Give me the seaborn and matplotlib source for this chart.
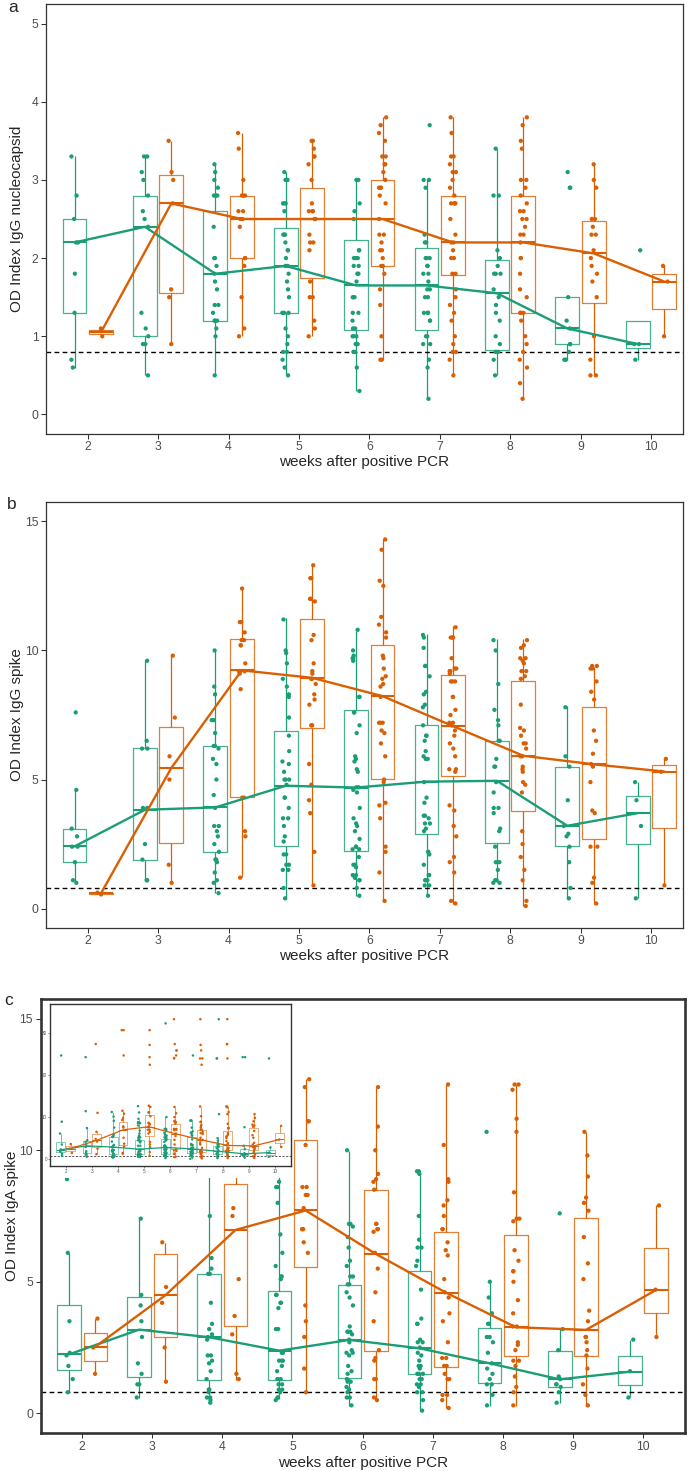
import numpy as np
import pandas as pd
import matplotlib
matplotlib.use("Agg")
import matplotlib.pyplot as plt
import seaborn as sns

np.random.seed(7)

WEEKS = [2, 3, 4, 5, 6, 7, 8, 9, 10]
GROUPS = ["green", "orange"]
COLORS = {"green": "#1B9E77", "orange": "#D95F02"}
CUTOFF = 0.8
XLABEL = "weeks after positive PCR"

# ---------- panel a : IgG nucleocapsid (lower whisker, Q1, median, Q3, upper whisker)
A_GREEN_BOX = [(0.6, 1.3, 2.2, 2.5, 3.3), (0.5, 1.0, 2.4, 2.8, 3.3), (0.5, 1.2, 1.8, 2.6, 3.2),
               (0.5, 1.3, 1.9, 2.38, 3.1), (0.3, 1.08, 1.65, 2.23, 3.0), (0.2, 1.08, 1.65, 2.13, 3.0),
               (0.5, 0.83, 1.55, 1.98, 3.4), (0.7, 0.9, 1.1, 1.5, 1.5), (0.7, 0.85, 0.9, 1.2, 1.2)]
A_ORANGE_BOX = [(1.0, 1.03, 1.05, 1.08, 1.1), (0.9, 1.55, 2.7, 3.06, 3.5), (1.0, 2.0, 2.5, 2.8, 3.6),
                (1.0, 1.75, 2.5, 2.9, 3.5), (0.7, 1.9, 2.5, 3.0, 3.8), (0.5, 1.78, 2.2, 2.8, 3.8),
                (0.2, 1.3, 2.2, 2.8, 3.8), (0.5, 1.43, 2.06, 2.48, 3.2), (1.0, 1.35, 1.7, 1.8, 1.9)]
A_GREEN_PTS = [
    [3.3, 2.8, 2.5, 2.2, 2.2, 1.8, 1.3, 0.7, 0.6],
    [3.3, 3.3, 3.1, 3.0, 2.8, 2.6, 2.5, 2.4, 1.3, 1.1, 1.0, 0.9, 0.9, 0.5],
    [3.2, 3.1, 3.0, 2.9, 2.8, 2.8, 2.8, 2.4, 2.0, 2.0, 1.9, 1.8, 1.7, 1.6, 1.4, 1.4, 1.3, 1.2, 1.2, 1.2, 1.1, 1.0, 0.5],
    [3.1, 3.0, 3.0, 2.7, 2.7, 2.7, 2.6, 2.3, 2.3, 2.3, 2.2, 2.1, 2.1, 2.0, 1.9, 1.9, 1.8, 1.7, 1.6, 1.5, 1.3, 1.3,
     1.3, 1.1, 1.0, 0.9, 0.8, 0.8, 0.7, 0.6, 0.5],
    [3.0, 3.0, 2.7, 2.6, 2.5, 2.1, 2.1, 2.0, 2.0, 2.0, 1.9, 1.9, 1.8, 1.8, 1.7, 1.5, 1.5, 1.5, 1.3, 1.3, 1.2, 1.1,
     1.1, 1.0, 1.0, 1.0, 0.9, 0.9, 0.8, 0.8, 0.6, 0.3],
    [3.7, 3.0, 3.0, 2.9, 2.3, 2.2, 2.2, 2.0, 2.0, 2.0, 1.9, 1.9, 1.8, 1.8, 1.7, 1.6, 1.6, 1.5, 1.5, 1.3, 1.3, 1.3,
     1.2, 1.2, 1.0, 1.0, 0.9, 0.9, 0.7, 0.6, 0.2],
    [3.4, 2.8, 2.8, 2.1, 2.0, 1.9, 1.8, 1.8, 1.8, 1.6, 1.5, 1.4, 1.3, 1.2, 1.0, 0.9, 0.8, 0.8, 0.7, 0.5],
    [3.1, 2.9, 2.9, 1.5, 1.2, 1.1, 0.9, 0.9, 0.8, 0.7, 0.7],
    [2.1, 0.9, 0.9, 0.7],
]
A_ORANGE_PTS = [
    [1.1, 1.0],
    [3.5, 3.1, 3.0, 2.7, 1.6, 1.5, 0.9],
    [3.6, 3.4, 3.0, 2.8, 2.8, 2.8, 2.6, 2.6, 2.5, 2.5, 2.4, 2.0, 2.0, 1.9, 1.5, 1.1, 1.0],
    [3.5, 3.5, 3.4, 3.3, 3.3, 3.2, 3.0, 2.7, 2.6, 2.6, 2.6, 2.5, 2.5, 2.3, 2.2, 2.2, 2.1, 1.7, 1.5, 1.5, 1.2, 1.1, 1.0],
    [3.8, 3.7, 3.6, 3.5, 3.3, 3.3, 3.2, 3.2, 3.1, 3.0, 2.9, 2.9, 2.9, 2.8, 2.7, 2.5, 2.3, 2.3, 2.2, 2.1, 2.1, 2.0,
     1.9, 1.9, 1.8, 1.6, 1.4, 1.0, 0.7, 0.7],
    [3.8, 3.6, 3.3, 3.3, 3.2, 3.1, 3.1, 3.0, 2.9, 2.8, 2.7, 2.7, 2.7, 2.7, 2.5, 2.3, 2.2, 2.2, 2.1, 2.0, 2.0, 1.8,
     1.8, 1.6, 1.5, 1.4, 1.3, 1.2, 1.0, 0.9, 0.8, 0.8, 0.7, 0.5],
    [3.8, 3.7, 3.5, 3.4, 3.0, 3.0, 2.9, 2.8, 2.7, 2.6, 2.6, 2.5, 2.5, 2.4, 2.3, 2.3, 2.2, 2.0, 2.0, 1.8, 1.6, 1.5,
     1.3, 1.3, 1.3, 1.2, 1.0, 0.9, 0.8, 0.7, 0.6, 0.4, 0.2],
    [3.2, 3.0, 2.9, 2.5, 2.5, 2.4, 2.3, 2.3, 2.1, 2.0, 1.9, 1.8, 1.7, 1.5, 1.0, 0.7, 0.5, 0.5],
    [1.9, 1.7, 1.0],
]

# ---------- panel b : IgG spike
B_GREEN_BOX = [(1.0, 1.79, 2.41, 3.10, 4.63), (1.1, 1.89, 3.83, 6.21, 9.63), (0.6, 2.19, 3.92, 6.30, 10.04),
               (0.37, 2.41, 4.76, 6.88, 11.25), (0.5, 2.24, 4.69, 7.71, 10.77), (0.5, 2.90, 4.92, 7.11, 10.62),
               (1.04, 2.54, 4.95, 6.51, 10.43), (0.4, 2.41, 3.21, 5.50, 7.85), (0.4, 2.50, 3.70, 4.37, 4.91)]
B_ORANGE_BOX = [(0.55, 0.57, 0.59, 0.61, 0.62), (1.02, 2.53, 5.45, 7.04, 9.83), (1.21, 4.32, 9.23, 10.43, 12.44),
                (0.89, 7.01, 8.94, 11.22, 13.26), (0.31, 5.01, 8.23, 10.21, 14.3), (0.18, 5.14, 7.07, 9.03, 10.94),
                (0.12, 3.80, 5.92, 8.82, 10.43), (0.18, 2.69, 5.59, 7.82, 9.36), (0.89, 3.11, 5.31, 5.57, 5.82)]
B_GREEN_PTS = [
    [7.6, 4.6, 3.1, 2.8, 2.4, 2.4, 1.8, 1.1, 1.0],
    [9.6, 6.5, 6.2, 6.2, 3.9, 3.9, 2.5, 1.9, 1.1, 1.1],
    [10.0, 8.6, 8.3, 7.3, 7.3, 6.8, 6.3, 6.3, 6.2, 5.8, 5.6, 5.0, 4.4, 3.9, 3.2, 3.2, 3.0, 2.8, 2.5, 2.2, 1.9, 1.9,
     1.8, 1.4, 1.1, 1.0, 0.6],
    [11.2, 10.0, 9.9, 9.5, 8.9, 8.6, 8.3, 8.2, 7.4, 6.7, 6.1, 5.7, 5.6, 5.3, 5.0, 5.0, 5.0, 4.8, 4.3, 4.3, 3.9, 3.5,
     3.5, 3.2, 2.8, 2.6, 2.1, 2.1, 1.7, 1.7, 1.5, 1.5, 0.8, 0.4],
    [10.8, 10.0, 9.8, 9.7, 9.7, 9.6, 8.2, 8.2, 7.6, 7.6, 7.1, 6.8, 5.9, 5.8, 5.7, 5.4, 5.3, 4.7, 4.7, 4.6, 4.5, 3.9,
     3.5, 3.3, 3.2, 3.0, 2.7, 2.4, 2.4, 2.3, 2.3, 2.0, 1.7, 1.7, 1.6, 1.3, 1.3, 1.2, 1.2, 1.1, 1.1, 0.8, 0.5],
    [10.6, 10.5, 10.1, 9.4, 9.4, 9.0, 8.4, 8.3, 7.9, 7.8, 7.1, 6.7, 6.7, 6.5, 6.1, 5.9, 5.8, 5.8, 4.9, 4.3, 4.1, 3.6,
     3.6, 3.5, 3.3, 3.3, 3.1, 3.0, 2.2, 2.2, 2.1, 1.7, 1.3, 1.3, 1.1, 1.1, 1.1, 0.9, 0.9, 0.5],
    [10.4, 10.0, 8.7, 7.7, 7.3, 7.1, 6.5, 6.5, 5.8, 5.5, 5.5, 4.9, 4.5, 3.9, 3.9, 3.7, 3.1, 3.0, 2.4, 1.8, 1.8, 1.5,
     1.1, 1.1, 1.0, 1.0],
    [7.8, 5.9, 5.5, 4.2, 3.2, 2.9, 2.8, 2.4, 1.8, 0.8, 0.4],
    [4.9, 4.2, 3.2, 0.4],
]
B_ORANGE_PTS = [
    [0.62, 0.55],
    [9.8, 7.4, 5.9, 5.0, 1.7, 1.0],
    [12.4, 11.1, 11.1, 10.7, 10.4, 10.4, 10.2, 10.2, 9.5, 9.2, 9.2, 9.2, 9.1, 8.5, 4.3, 4.3, 3.0, 2.8, 1.2],
    [13.3, 12.8, 12.8, 12.0, 12.0, 11.9, 10.6, 10.4, 9.5, 9.2, 9.1, 8.9, 8.9, 8.7, 8.3, 8.1, 7.9, 7.1, 7.1, 5.6, 4.8,
     4.2, 3.7, 2.2, 0.9],
    [14.3, 13.9, 12.7, 12.5, 11.3, 11.0, 10.7, 10.5, 9.8, 9.7, 9.3, 9.0, 8.9, 8.7, 8.6, 8.2, 7.2, 7.2, 7.2, 6.9, 6.8,
     6.4, 5.9, 5.0, 4.9, 4.1, 4.0, 3.5, 2.4, 2.2, 1.4, 0.3],
    [10.9, 10.5, 10.5, 10.5, 9.7, 9.3, 9.3, 9.2, 9.2, 9.1, 8.8, 8.8, 8.8, 8.2, 8.2, 7.7, 7.5, 7.2, 7.2, 7.1, 7.1, 6.9,
     6.7, 6.4, 6.2, 5.9, 5.4, 5.4, 5.3, 4.0, 3.8, 3.2, 2.8, 2.0, 1.8, 1.4, 0.3, 0.2],
    [10.4, 10.2, 10.1, 9.7, 9.7, 9.6, 9.5, 9.2, 9.2, 9.0, 8.9, 7.9, 7.0, 6.9, 6.7, 6.4, 6.4, 6.2, 5.9, 5.9, 5.5, 5.4,
     5.3, 4.9, 4.8, 4.5, 3.0, 2.5, 2.0, 1.5, 1.1, 0.3, 0.1],
    [9.4, 9.4, 9.3, 9.3, 8.8, 8.4, 8.1, 6.9, 6.5, 6.0, 5.6, 5.5, 4.9, 3.8, 3.7, 2.4, 2.4, 1.2, 1.0, 0.2],
    [5.8, 5.3, 0.9],
]

# ---------- panel c : IgA spike
C_GREEN_BOX = [(0.79, 1.65, 2.24, 4.13, 6.08), (0.58, 1.37, 3.18, 4.41, 7.38), (0.38, 1.27, 2.89, 5.28, 11.2),
               (0.53, 1.27, 2.38, 4.63, 9.6), (0.28, 1.33, 2.79, 4.88, 9.99), (0.10, 1.50, 2.47, 5.39, 9.19),
               (0.28, 1.14, 1.90, 3.23, 4.98), (0.38, 1.01, 1.29, 2.38, 3.19), (0.61, 1.08, 1.58, 2.18, 2.79)]
C_ORANGE_BOX = [(1.48, 2.00, 2.53, 3.05, 3.59), (1.18, 2.89, 4.49, 6.06, 6.49), (1.27, 3.33, 6.97, 8.72, 11.5),
                (0.79, 5.58, 7.71, 10.39, 12.71), (0.51, 2.38, 6.06, 8.47, 12.38), (0.19, 1.77, 4.59, 6.88, 12.48),
                (0.28, 2.18, 3.27, 6.78, 12.48), (0.28, 2.18, 3.17, 7.41, 10.68), (2.89, 3.80, 4.69, 6.27, 7.90)]
C_GREEN_PTS = [
    [24.6, 8.9, 6.1, 3.5, 2.3, 2.2, 1.8, 1.3, 0.8],
    [24.2, 11.4, 7.4, 4.5, 4.1, 3.5, 2.9, 1.9, 1.5, 1.1, 1.1, 0.6],
    [11.2, 10.1, 9.1, 7.5, 5.9, 5.5, 5.3, 5.3, 4.2, 3.4, 3.2, 3.0, 2.9, 2.8, 2.2, 2.2, 2.0, 1.9, 1.6, 1.3, 0.9, 0.9,
     0.8, 0.6, 0.6, 0.5, 0.4],
    [12.6, 11.1, 9.6, 8.8, 8.6, 8.6, 8.0, 6.8, 6.1, 5.6, 5.2, 5.2, 5.1, 4.5, 4.5, 4.2, 4.2, 4.0, 3.2, 3.2, 2.3, 2.3,
     2.0, 2.0, 2.0, 1.8, 1.6, 1.3, 1.3, 1.1, 1.1, 0.9, 0.9, 0.8, 0.6, 0.6, 0.5],
    [32.2, 10.0, 7.2, 7.2, 7.1, 6.7, 6.3, 5.8, 5.6, 5.2, 5.2, 4.9, 4.9, 4.6, 4.4, 4.1, 3.3, 3.1, 3.1, 3.1, 3.0, 2.8,
     2.7, 2.4, 2.3, 2.3, 2.2, 1.8, 1.6, 1.5, 1.3, 1.2, 1.2, 1.0, 0.9, 0.8, 0.6, 0.6, 0.3],
    [24.6, 9.2, 9.2, 9.1, 7.5, 6.6, 6.3, 6.3, 5.8, 5.6, 4.7, 3.6, 3.4, 3.4, 2.8, 2.7, 2.7, 2.5, 2.3, 2.2, 2.0, 1.8,
     1.8, 1.7, 1.5, 1.5, 1.5, 1.3, 1.3, 1.1, 1.1, 1.0, 0.8, 0.8, 0.5, 0.1],
    [33.2, 23.9, 23.9, 10.7, 5.0, 4.4, 3.8, 3.4, 3.4, 2.9, 2.9, 2.7, 2.3, 1.9, 1.7, 1.5, 1.3, 1.1, 1.1, 0.7, 0.3],
    [24.2, 24.2, 7.6, 3.2, 2.4, 1.4, 1.3, 1.1, 1.1, 1.0, 0.8, 0.4],
    [23.9, 2.8, 1.6, 0.6],
]
C_ORANGE_PTS = [
    [3.6, 2.5, 1.5],
    [27.3, 11.0, 6.5, 4.8, 4.2, 2.5, 1.2],
    [30.6, 30.6, 24.6, 11.5, 10.8, 9.8, 9.3, 7.8, 7.5, 5.1, 3.7, 3.0, 1.5, 1.3],
    [30.6, 27.1, 24.2, 22.4, 12.7, 12.4, 11.1, 11.1, 10.2, 8.6, 8.6, 8.3, 8.3, 7.8, 7.0, 7.0, 7.0, 6.5, 6.1, 4.1,
     3.5, 2.9, 1.7, 0.8],
    [33.2, 27.3, 25.8, 25.8, 24.6, 24.0, 23.9, 12.4, 10.9, 10.0, 9.1, 8.9, 8.8, 8.5, 7.2, 7.2, 7.0, 7.0, 6.9, 6.1,
     5.5, 4.6, 3.5, 2.4, 2.1, 2.0, 1.3, 1.3, 0.6, 0.5],
    [33.2, 27.1, 25.8, 23.9, 23.9, 22.4, 12.5, 10.2, 8.9, 8.8, 8.1, 7.9, 7.5, 7.0, 7.0, 6.5, 6.2, 6.0, 5.1, 4.6,
     4.4, 3.8, 3.5, 2.7, 2.1, 2.1, 1.8, 1.8, 1.5, 1.3, 1.3, 0.7, 0.7, 0.5, 0.2],
    [33.2, 27.3, 27.3, 23.9, 12.5, 12.5, 12.3, 11.2, 10.7, 8.4, 7.4, 7.4, 7.3, 6.2, 5.8, 5.4, 5.4, 5.0, 4.3, 3.8,
     3.3, 3.3, 2.7, 2.6, 2.4, 2.0, 2.0, 1.8, 1.4, 1.0, 0.8, 0.3],
    [10.7, 9.8, 9.0, 8.2, 8.0, 7.7, 6.7, 5.7, 5.1, 3.9, 3.5, 2.9, 2.9, 2.7, 2.4, 2.2, 1.7, 1.1, 0.7, 0.3],
    [7.9, 4.7, 2.9],
]

# ---------------------------------------------------------------------------
sns.set_style("white")
plt.rcParams["font.family"] = ["Liberation Sans", "DejaVu Sans"]

W, H = 693, 1471
DODGE = 0.1875


def rect(l, t, r, b):
    return [l / W, 1 - b / H, (r - l) / W, (b - t) / H]


def draw(ax, box_g, box_o, pts_g, pts_o, s):
    rows = []
    for grp, box in (("green", box_g), ("orange", box_o)):
        for w, stats in zip(WEEKS, box):
            for v in stats:
                rows.append({"week": w, "group": grp, "value": v})
    bdf = pd.DataFrame(rows)
    sns.boxplot(data=bdf, x="week", y="value", hue="group", hue_order=GROUPS,
                palette=COLORS, native_scale=True, width=0.75, gap=0.1,
                whis=np.inf, fill=False, showfliers=False, showcaps=False,
                saturation=1, linewidth=s["box"], legend=False, ax=ax,
                boxprops=dict(alpha=0.8), medianprops=dict(linewidth=s["med"]))
    ax.axhline(CUTOFF, color="black", lw=s["dash"], ls=(0, (3.4, 2.4)), zorder=2.5)
    prow = []
    for grp, pts, off in (("green", pts_g, -DODGE), ("orange", pts_o, DODGE)):
        for w, vals in zip(WEEKS, pts):
            for v in vals:
                prow.append({"pos": w + off, "group": grp, "value": v})
    pdf = pd.DataFrame(prow)
    sns.stripplot(data=pdf, x="pos", y="value", hue="group", hue_order=GROUPS,
                  palette=COLORS, native_scale=True, jitter=0.14, dodge=False,
                  size=s["pt"], linewidth=0, legend=False, ax=ax, orient="x", zorder=3)
    for grp, box, off in (("green", box_g, -DODGE), ("orange", box_o, DODGE)):
        sns.lineplot(x=[w + off for w in WEEKS], y=[b[2] for b in box],
                     color=COLORS[grp], linewidth=s["line"], ax=ax, legend=False, zorder=4)
    ax.set_xlabel("")
    ax.set_ylabel("")
    ax.set_xticks(WEEKS)


def style(ax, spine_lw, fs, tl, pad):
    for sp in ax.spines.values():
        sp.set_visible(True)
        sp.set_color("#333333")
        sp.set_linewidth(spine_lw)
    ax.tick_params(length=tl, width=0.75 if fs > 5 else 0.4, color="#333333",
                   labelcolor="#4D4D4D", labelsize=fs, pad=pad,
                   bottom=True, left=True)
    ax.grid(False)


MAIN = dict(box=0.9, med=1.5, dash=1.0, pt=3.1, line=1.7)
SMALL = dict(box=0.45, med=0.7, dash=0.45, pt=1.8, line=0.9)

fig = plt.figure(figsize=(W / 100, H / 100), dpi=100)

# panel a
axa = fig.add_axes(rect(46, 4, 683, 434))
draw(axa, A_GREEN_BOX, A_ORANGE_BOX, A_GREEN_PTS, A_ORANGE_PTS, MAIN)
axa.set_xlim(1.407, 10.455)
axa.set_ylim(-0.25, 5.25)
axa.set_yticks([0, 1, 2, 3, 4, 5])
style(axa, 0.9, 8.7, 3.4, 2)

# panel b
axb = fig.add_axes(rect(46, 502, 683, 928))
draw(axb, B_GREEN_BOX, B_ORANGE_BOX, B_GREEN_PTS, B_ORANGE_PTS, MAIN)
axb.set_xlim(1.407, 10.455)
axb.set_ylim(-0.75, 15.75)
axb.set_yticks([0, 5, 10, 15])
style(axb, 0.9, 8.7, 3.4, 2)

# panel c
axc = fig.add_axes(rect(40.5, 999, 685, 1433))
draw(axc, C_GREEN_BOX, C_ORANGE_BOX, C_GREEN_PTS, C_ORANGE_PTS, MAIN)
axc.set_xlim(1.405, 10.6)
axc.set_ylim(-0.75, 15.75)
axc.set_yticks([0, 5, 10, 15])
style(axc, 1.9, 8.7, 3.4, 2)

# inset (full range) with white background
bg = fig.add_axes(rect(42.5, 1001, 293, 1178))
bg.set_facecolor("white")
bg.set_xticks([])
bg.set_yticks([])
for sp in bg.spines.values():
    sp.set_visible(False)

axi = fig.add_axes(rect(50, 1004, 290.7, 1166))
draw(axi, C_GREEN_BOX, C_ORANGE_BOX, C_GREEN_PTS, C_ORANGE_PTS, SMALL)
axi.set_xlim(1.4, 10.6)
axi.set_ylim(-1.6, 36.8)
axi.set_yticks([0, 10, 20, 30])
style(axi, 1.0, 3.3, 1.3, 0.8)


def ftext(x, y, s, **kw):
    fig.text(x / W, 1 - y / H, s, **kw)


ftext(8, 12, "a", fontsize=12.5, va="baseline", ha="left")
ftext(7, 509, "b", fontsize=12.5, va="baseline", ha="left")
ftext(4, 1005, "c", fontsize=12.5, va="baseline", ha="left")

ftext(17, 219, "OD Index IgG nucleocapsid", fontsize=11, rotation=90, ha="center", va="center")
ftext(17, 715, "OD Index IgG spike", fontsize=11, rotation=90, ha="center", va="center")
ftext(12, 1216, "OD Index IgA spike", fontsize=11, rotation=90, ha="center", va="center")

ftext(364.5, 462, XLABEL, fontsize=11, ha="center", va="center")
ftext(364.5, 956, XLABEL, fontsize=11, ha="center", va="center")
ftext(362.7, 1463, XLABEL, fontsize=11, ha="center", va="center")

fig.savefig("out.png", dpi=100)
